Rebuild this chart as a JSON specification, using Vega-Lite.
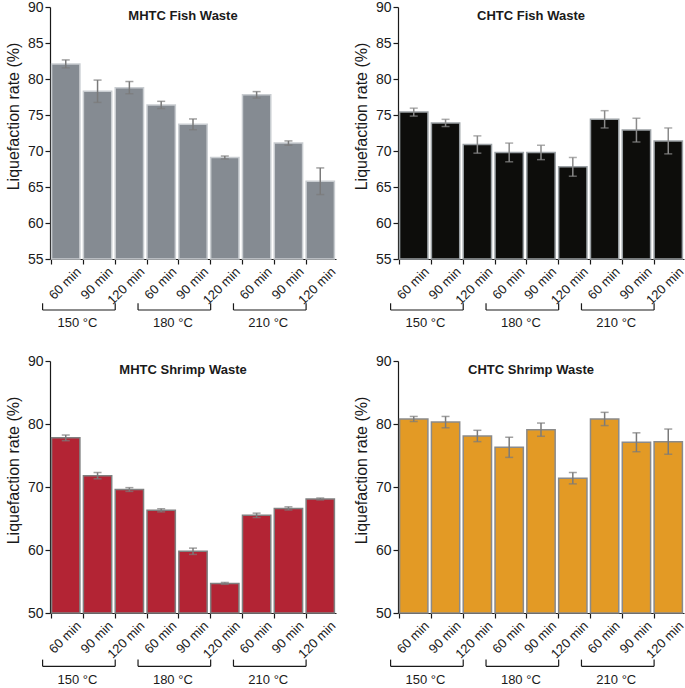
{
  "$schema": "https://vega.github.io/schema/vega-lite/v6.json",
  "padding": {"left": 5, "top": 0, "right": 2, "bottom": 2},
  "config": {
    "font": "Liberation Sans",
    "view": {"stroke": null},
    "axis": {
      "grid": false,
      "domainColor": "#1a1a1a",
      "tickColor": "#1a1a1a",
      "labelColor": "#1a1a1a",
      "titleColor": "#1a1a1a",
      "domainWidth": 1.2,
      "tickWidth": 1.2,
      "tickSize": 5,
      "labelFontSize": 14,
      "labelPadding": 2,
      "titleFontSize": 16,
      "titleFontWeight": "normal",
      "titlePadding": 6
    },
    "axisY": {"tickCount": 10, "labelOverlap": false, "titleY": 109},
    "axisX": {"labelFontSize": 13, "labelPadding": 1},
    "title": {"fontSize": 13, "fontWeight": "bold", "color": "#1a1a1a", "offset": -23, "baseline": "middle", "frame": "group", "dx": -10}
  },
  "datasets": {
    "mf": [
      {"cond": "150|60 min", "rate": 82.1, "sd": 0.55},
      {"cond": "150|90 min", "rate": 78.3, "sd": 1.55},
      {"cond": "150|120 min", "rate": 78.8, "sd": 0.85},
      {"cond": "180|60 min", "rate": 76.4, "sd": 0.5},
      {"cond": "180|90 min", "rate": 73.7, "sd": 0.75},
      {"cond": "180|120 min", "rate": 69.1, "sd": 0.2},
      {"cond": "210|60 min", "rate": 77.8, "sd": 0.45},
      {"cond": "210|90 min", "rate": 71.1, "sd": 0.3},
      {"cond": "210|120 min", "rate": 65.8, "sd": 1.85}
    ],
    "cf": [
      {"cond": "150|60 min", "rate": 75.4, "sd": 0.55},
      {"cond": "150|90 min", "rate": 73.9, "sd": 0.5},
      {"cond": "150|120 min", "rate": 70.9, "sd": 1.2},
      {"cond": "180|60 min", "rate": 69.8, "sd": 1.3},
      {"cond": "180|90 min", "rate": 69.8, "sd": 1.0},
      {"cond": "180|120 min", "rate": 67.8, "sd": 1.3},
      {"cond": "210|60 min", "rate": 74.4, "sd": 1.2},
      {"cond": "210|90 min", "rate": 72.9, "sd": 1.65},
      {"cond": "210|120 min", "rate": 71.4, "sd": 1.8}
    ],
    "ms": [
      {"cond": "150|60 min", "rate": 77.8, "sd": 0.45},
      {"cond": "150|90 min", "rate": 71.8, "sd": 0.5},
      {"cond": "150|120 min", "rate": 69.6, "sd": 0.3},
      {"cond": "180|60 min", "rate": 66.3, "sd": 0.25},
      {"cond": "180|90 min", "rate": 59.8, "sd": 0.5},
      {"cond": "180|120 min", "rate": 54.7, "sd": 0.15},
      {"cond": "210|60 min", "rate": 65.5, "sd": 0.35},
      {"cond": "210|90 min", "rate": 66.6, "sd": 0.25},
      {"cond": "210|120 min", "rate": 68.1, "sd": 0.15}
    ],
    "cs": [
      {"cond": "150|60 min", "rate": 80.8, "sd": 0.4},
      {"cond": "150|90 min", "rate": 80.3, "sd": 0.9},
      {"cond": "150|120 min", "rate": 78.1, "sd": 0.9},
      {"cond": "180|60 min", "rate": 76.3, "sd": 1.6},
      {"cond": "180|90 min", "rate": 79.1, "sd": 1.05},
      {"cond": "180|120 min", "rate": 71.4, "sd": 0.9},
      {"cond": "210|60 min", "rate": 80.8, "sd": 1.05},
      {"cond": "210|90 min", "rate": 77.1, "sd": 1.5},
      {"cond": "210|120 min", "rate": 77.2, "sd": 2.0}
    ],
    "groups": [
      {"temp": "150 °C", "start": "150|60 min", "mid": "150|90 min", "end": "150|120 min"},
      {"temp": "180 °C", "start": "180|60 min", "mid": "180|90 min", "end": "180|120 min"},
      {"temp": "210 °C", "start": "210|60 min", "mid": "210|90 min", "end": "210|120 min"}
    ]
  },
  "columns": 2,
  "spacing": {"column": 15, "row": 23},
  "concat": [
    {
      "width": 286, "height": 252,
      "title": "MHTC Fish Waste",
      "data": {"name": "mf"},
      "layer": [
        {
          "mark": {"type": "bar", "fill": "#858b92", "stroke": "#c9cdd1", "strokeWidth": 1.5},
          "encoding": {
            "x": {"field": "cond", "type": "nominal", "title": null,
              "scale": {"domain": ["150|60 min", "150|90 min", "150|120 min", "180|60 min", "180|90 min", "180|120 min", "210|60 min", "210|90 min", "210|120 min"], "paddingInner": 0.11, "paddingOuter": 0.05},
              "axis": {"bandPosition": 0, "labelAngle": -45, "labelOffset": 9, "labelExpr": "split(datum.label, '|')[1]"}},
            "y": {"field": "rate", "type": "quantitative", "title": "Liquefaction rate (%)",
              "scale": {"domain": [55, 90], "nice": false, "zero": false},
              "axis": {"values": [55, 60, 65, 70, 75, 80, 85, 90]}},
            "y2": {"datum": 55}
          }
        },
        {
          "mark": {"type": "errorbar", "color": "#7a7a7a", "thickness": 1.5, "ticks": {"size": 8, "thickness": 1.5}},
          "encoding": {
            "x": {"field": "cond", "type": "nominal"},
            "y": {"field": "rate", "type": "quantitative", "title": "Liquefaction rate (%)", "scale": {"domain": [55, 90], "nice": false, "zero": false}},
            "yError": {"field": "sd"}
          }
        },
        {
          "data": {"name": "groups"},
          "mark": {"type": "rule", "color": "#1a1a1a", "strokeWidth": 1.2, "xOffset": -9},
          "encoding": {
            "x": {"field": "start", "type": "nominal", "bandPosition": 0},
            "x2": {"field": "end", "bandPosition": 0},
            "y": {"datum": 47.92}
          }
        },
        {
          "data": {"name": "groups"},
          "mark": {"type": "rule", "color": "#1a1a1a", "strokeWidth": 1.2, "xOffset": -9},
          "encoding": {
            "x": {"field": "start", "type": "nominal", "bandPosition": 0},
            "y": {"datum": 48.85},
            "y2": {"datum": 47.92}
          }
        },
        {
          "data": {"name": "groups"},
          "mark": {"type": "rule", "color": "#1a1a1a", "strokeWidth": 1.2},
          "encoding": {
            "x": {"field": "end", "type": "nominal", "bandPosition": 0},
            "y": {"datum": 48.85},
            "y2": {"datum": 47.92}
          }
        },
        {
          "data": {"name": "groups"},
          "mark": {"type": "text", "fontSize": 13, "color": "#1a1a1a", "baseline": "middle", "dx": -6},
          "encoding": {
            "x": {"field": "mid", "type": "nominal", "bandPosition": 0},
            "y": {"datum": 46.07},
            "text": {"field": "temp"}
          }
        }
      ]
    },
    {
      "width": 286, "height": 252,
      "title": "CHTC Fish Waste",
      "data": {"name": "cf"},
      "layer": [
        {
          "mark": {"type": "bar", "fill": "#0d0d0b", "stroke": "#9aa0a4", "strokeWidth": 1.5},
          "encoding": {
            "x": {"field": "cond", "type": "nominal", "title": null,
              "scale": {"domain": ["150|60 min", "150|90 min", "150|120 min", "180|60 min", "180|90 min", "180|120 min", "210|60 min", "210|90 min", "210|120 min"], "paddingInner": 0.11, "paddingOuter": 0.05},
              "axis": {"bandPosition": 0, "labelAngle": -45, "labelOffset": 9, "labelExpr": "split(datum.label, '|')[1]"}},
            "y": {"field": "rate", "type": "quantitative", "title": "Liquefaction rate (%)",
              "scale": {"domain": [55, 90], "nice": false, "zero": false},
              "axis": {"values": [55, 60, 65, 70, 75, 80, 85, 90]}},
            "y2": {"datum": 55}
          }
        },
        {
          "mark": {"type": "errorbar", "color": "#8a8a8a", "thickness": 1.5, "ticks": {"size": 8, "thickness": 1.5}},
          "encoding": {
            "x": {"field": "cond", "type": "nominal"},
            "y": {"field": "rate", "type": "quantitative", "title": "Liquefaction rate (%)", "scale": {"domain": [55, 90], "nice": false, "zero": false}},
            "yError": {"field": "sd"}
          }
        },
        {
          "data": {"name": "groups"},
          "mark": {"type": "rule", "color": "#1a1a1a", "strokeWidth": 1.2, "xOffset": -9},
          "encoding": {
            "x": {"field": "start", "type": "nominal", "bandPosition": 0},
            "x2": {"field": "end", "bandPosition": 0},
            "y": {"datum": 47.92}
          }
        },
        {
          "data": {"name": "groups"},
          "mark": {"type": "rule", "color": "#1a1a1a", "strokeWidth": 1.2, "xOffset": -9},
          "encoding": {
            "x": {"field": "start", "type": "nominal", "bandPosition": 0},
            "y": {"datum": 48.85},
            "y2": {"datum": 47.92}
          }
        },
        {
          "data": {"name": "groups"},
          "mark": {"type": "rule", "color": "#1a1a1a", "strokeWidth": 1.2},
          "encoding": {
            "x": {"field": "end", "type": "nominal", "bandPosition": 0},
            "y": {"datum": 48.85},
            "y2": {"datum": 47.92}
          }
        },
        {
          "data": {"name": "groups"},
          "mark": {"type": "text", "fontSize": 13, "color": "#1a1a1a", "baseline": "middle", "dx": -6},
          "encoding": {
            "x": {"field": "mid", "type": "nominal", "bandPosition": 0},
            "y": {"datum": 46.07},
            "text": {"field": "temp"}
          }
        }
      ]
    },
    {
      "width": 286, "height": 252,
      "title": "MHTC Shrimp Waste",
      "data": {"name": "ms"},
      "layer": [
        {
          "mark": {"type": "bar", "fill": "#b32434", "stroke": "#808080", "strokeWidth": 1.5},
          "encoding": {
            "x": {"field": "cond", "type": "nominal", "title": null,
              "scale": {"domain": ["150|60 min", "150|90 min", "150|120 min", "180|60 min", "180|90 min", "180|120 min", "210|60 min", "210|90 min", "210|120 min"], "paddingInner": 0.11, "paddingOuter": 0.05},
              "axis": {"bandPosition": 0, "labelAngle": -45, "labelOffset": 9, "labelExpr": "split(datum.label, '|')[1]"}},
            "y": {"field": "rate", "type": "quantitative", "title": "Liquefaction rate (%)",
              "scale": {"domain": [50, 90], "nice": false, "zero": false},
              "axis": {"values": [50, 60, 70, 80, 90]}},
            "y2": {"datum": 50}
          }
        },
        {
          "mark": {"type": "errorbar", "color": "#7a7a7a", "thickness": 1.5, "ticks": {"size": 8, "thickness": 1.5}},
          "encoding": {
            "x": {"field": "cond", "type": "nominal"},
            "y": {"field": "rate", "type": "quantitative", "title": "Liquefaction rate (%)", "scale": {"domain": [50, 90], "nice": false, "zero": false}},
            "yError": {"field": "sd"}
          }
        },
        {
          "data": {"name": "groups"},
          "mark": {"type": "rule", "color": "#1a1a1a", "strokeWidth": 1.2, "xOffset": -9},
          "encoding": {
            "x": {"field": "start", "type": "nominal", "bandPosition": 0},
            "x2": {"field": "end", "bandPosition": 0},
            "y": {"datum": 41.54}
          }
        },
        {
          "data": {"name": "groups"},
          "mark": {"type": "rule", "color": "#1a1a1a", "strokeWidth": 1.2, "xOffset": -9},
          "encoding": {
            "x": {"field": "start", "type": "nominal", "bandPosition": 0},
            "y": {"datum": 42.6},
            "y2": {"datum": 41.54}
          }
        },
        {
          "data": {"name": "groups"},
          "mark": {"type": "rule", "color": "#1a1a1a", "strokeWidth": 1.2},
          "encoding": {
            "x": {"field": "end", "type": "nominal", "bandPosition": 0},
            "y": {"datum": 42.6},
            "y2": {"datum": 41.54}
          }
        },
        {
          "data": {"name": "groups"},
          "mark": {"type": "text", "fontSize": 13, "color": "#1a1a1a", "baseline": "middle", "dx": -6},
          "encoding": {
            "x": {"field": "mid", "type": "nominal", "bandPosition": 0},
            "y": {"datum": 39.43},
            "text": {"field": "temp"}
          }
        }
      ]
    },
    {
      "width": 286, "height": 252,
      "title": "CHTC Shrimp Waste",
      "data": {"name": "cs"},
      "layer": [
        {
          "mark": {"type": "bar", "fill": "#e39a25", "stroke": "#8a8a8a", "strokeWidth": 1.5},
          "encoding": {
            "x": {"field": "cond", "type": "nominal", "title": null,
              "scale": {"domain": ["150|60 min", "150|90 min", "150|120 min", "180|60 min", "180|90 min", "180|120 min", "210|60 min", "210|90 min", "210|120 min"], "paddingInner": 0.11, "paddingOuter": 0.05},
              "axis": {"bandPosition": 0, "labelAngle": -45, "labelOffset": 9, "labelExpr": "split(datum.label, '|')[1]"}},
            "y": {"field": "rate", "type": "quantitative", "title": "Liquefaction rate (%)",
              "scale": {"domain": [50, 90], "nice": false, "zero": false},
              "axis": {"values": [50, 60, 70, 80, 90]}},
            "y2": {"datum": 50}
          }
        },
        {
          "mark": {"type": "errorbar", "color": "#7a7a7a", "thickness": 1.5, "ticks": {"size": 8, "thickness": 1.5}},
          "encoding": {
            "x": {"field": "cond", "type": "nominal"},
            "y": {"field": "rate", "type": "quantitative", "title": "Liquefaction rate (%)", "scale": {"domain": [50, 90], "nice": false, "zero": false}},
            "yError": {"field": "sd"}
          }
        },
        {
          "data": {"name": "groups"},
          "mark": {"type": "rule", "color": "#1a1a1a", "strokeWidth": 1.2, "xOffset": -9},
          "encoding": {
            "x": {"field": "start", "type": "nominal", "bandPosition": 0},
            "x2": {"field": "end", "bandPosition": 0},
            "y": {"datum": 41.54}
          }
        },
        {
          "data": {"name": "groups"},
          "mark": {"type": "rule", "color": "#1a1a1a", "strokeWidth": 1.2, "xOffset": -9},
          "encoding": {
            "x": {"field": "start", "type": "nominal", "bandPosition": 0},
            "y": {"datum": 42.6},
            "y2": {"datum": 41.54}
          }
        },
        {
          "data": {"name": "groups"},
          "mark": {"type": "rule", "color": "#1a1a1a", "strokeWidth": 1.2},
          "encoding": {
            "x": {"field": "end", "type": "nominal", "bandPosition": 0},
            "y": {"datum": 42.6},
            "y2": {"datum": 41.54}
          }
        },
        {
          "data": {"name": "groups"},
          "mark": {"type": "text", "fontSize": 13, "color": "#1a1a1a", "baseline": "middle", "dx": -6},
          "encoding": {
            "x": {"field": "mid", "type": "nominal", "bandPosition": 0},
            "y": {"datum": 39.43},
            "text": {"field": "temp"}
          }
        }
      ]
    }
  ]
}
